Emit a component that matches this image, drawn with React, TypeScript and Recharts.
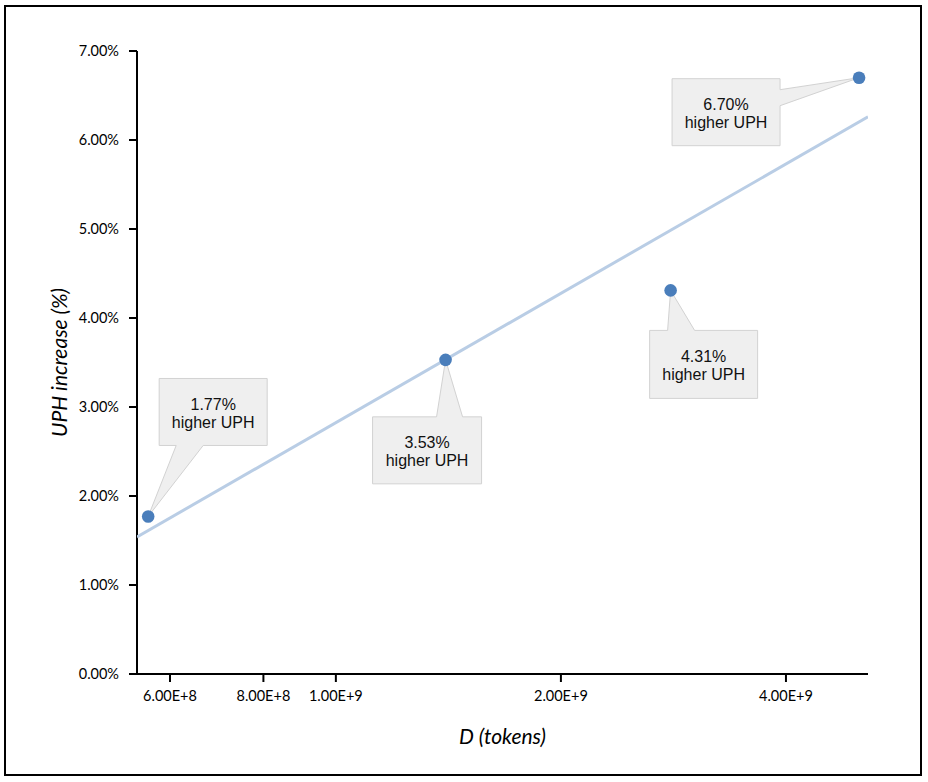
import React from 'react';
import {
  ScatterChart,
  Scatter,
  XAxis,
  YAxis,
  Label,
} from 'recharts';

// D (tokens) for each measured point
const tokens = [5.61e8, 1.402e9, 2.804e9, 5.01e9];
// UPH increase in percent
const uphIncrease = [1.77, 3.53, 4.31, 6.7];
const calloutText = ['1.77%', '3.53%', '4.31%', '6.70%'];

// log trendline, read at the two ends of the x axis
const trendTokens = [5.42e8, 5.15e9];
const trendUph = [1.54, 6.26];

const xTicks = [6e8, 8e8, 1e9, 2e9, 4e9];
const yTicks = [0, 1, 2, 3, 4, 5, 6, 7];

// callout box placement relative to each marker (px)
type Side = 'top' | 'bottom' | 'right';
const calloutPlacement: { side: Side; dx: number; dy: number; w: number; h: number; p1: number; p2: number }[] = [
  { side: 'bottom', dx: 11, dy: -138, w: 108, h: 67, p1: 28, p2: 55 },
  { side: 'top', dx: -73, dy: 57, w: 109, h: 67, p1: -9, p2: 17 },
  { side: 'top', dx: -21, dy: 40, w: 108, h: 68, p1: -3, p2: 24 },
  { side: 'right', dx: -187, dy: 1, w: 108, h: 67, p1: 12, p2: 28 },
];

const points = tokens.map((d, i) => ({ d, uph: uphIncrease[i], label: calloutText[i], idx: i }));
const trend = trendTokens.map((d, i) => ({ d, uph: trendUph[i] }));

const sci = (v: number) => {
  const exp = Math.floor(Math.log10(v) + 1e-9);
  const mant = v / Math.pow(10, exp);
  return `${mant.toFixed(2)}E+${exp}`;
};

function CalloutMarker(props: any) {
  const { cx, cy, payload } = props;
  const p = calloutPlacement[payload.idx];
  const L = cx + p.dx;
  const T = cy + p.dy;
  const R = L + p.w;
  const B = T + p.h;
  let pts: number[][];
  if (p.side === 'top') {
    pts = [[L, T], [cx + p.p1, T], [cx, cy], [cx + p.p2, T], [R, T], [R, B], [L, B]];
  } else if (p.side === 'bottom') {
    pts = [[L, T], [R, T], [R, B], [cx + p.p2, B], [cx, cy], [cx + p.p1, B], [L, B]];
  } else {
    pts = [[L, T], [R, T], [R, cy + p.p1], [cx, cy], [R, cy + p.p2], [R, B], [L, B]];
  }
  const d = 'M' + pts.map((q) => `${q[0]},${q[1]}`).join('L') + 'Z';
  const mid = (L + R) / 2;
  return (
    <g>
      <path d={d} fill="#EFEFEF" stroke="#D2D2D2" strokeWidth={1} />
      <text
        x={mid}
        y={T + 26}
        textAnchor="middle"
        dominantBaseline="central"
        fontFamily="'Liberation Sans', Arial, sans-serif"
        fontSize={16}
        fill="#111"
      >
        {payload.label}
      </text>
      <text
        x={mid}
        y={T + 44}
        textAnchor="middle"
        dominantBaseline="central"
        fontFamily="'Liberation Sans', Arial, sans-serif"
        fontSize={16}
        fill="#111"
      >
        higher UPH
      </text>
      <circle cx={cx} cy={cy} r={6.3} fill="#4A7EBB" />
    </g>
  );
}

export default function App() {
  return (
    <div style={{ position: 'absolute', left: 0, top: 0, width: 928, height: 782, background: '#fff' }}>
      <div
        style={{
          position: 'absolute',
          left: 4,
          top: 5,
          width: 914,
          height: 767,
          border: '2px solid #000',
        }}
      />
      <div style={{ position: 'absolute', left: 0, top: 0 }}>
        <ScatterChart width={928} height={782} margin={{ top: 51, right: 60, bottom: 0, left: 0 }}>
          <XAxis
            dataKey="d"
            type="number"
            scale="log"
            domain={[trendTokens[0], trendTokens[1]]}
            allowDataOverflow
            ticks={xTicks}
            tickFormatter={sci}
            height={108}
            tickSize={8}
            tickMargin={9}
            stroke="#000"
            strokeWidth={2}
            tick={{ fill: '#000', fontSize: 14.5, fontFamily: 'Lato, sans-serif' }}
          >
            <Label
              value="D (tokens)"
              position="center"
              dy={9}
              style={{ fontSize: 21, fontStyle: 'italic', fontFamily: 'Lato, sans-serif', fill: '#000' }}
            />
          </XAxis>
          <YAxis
            dataKey="uph"
            type="number"
            domain={[0, 7]}
            ticks={yTicks}
            tickFormatter={(v: number) => `${v.toFixed(2)}%`}
            width={137}
            tickSize={8}
            tickMargin={10}
            stroke="#000"
            strokeWidth={2}
            tick={{ fill: '#000', fontSize: 14.5, fontFamily: 'Lato, sans-serif' }}
          >
            <Label
              value="UPH increase (%)"
              position="center"
              angle={-90}
              dx={-9}
              style={{ fontSize: 21, fontStyle: 'italic', fontFamily: 'Lato, sans-serif', fill: '#000', textAnchor: 'middle' }}
            />
          </YAxis>
          <Scatter
            data={trend}
            line={{ stroke: '#B9CDE5', strokeWidth: 3 }}
            lineType="joint"
            shape={() => <g />}
            isAnimationActive={false}
          />
          <Scatter data={points} shape={CalloutMarker} isAnimationActive={false} />
        </ScatterChart>
      </div>
    </div>
  );
}
